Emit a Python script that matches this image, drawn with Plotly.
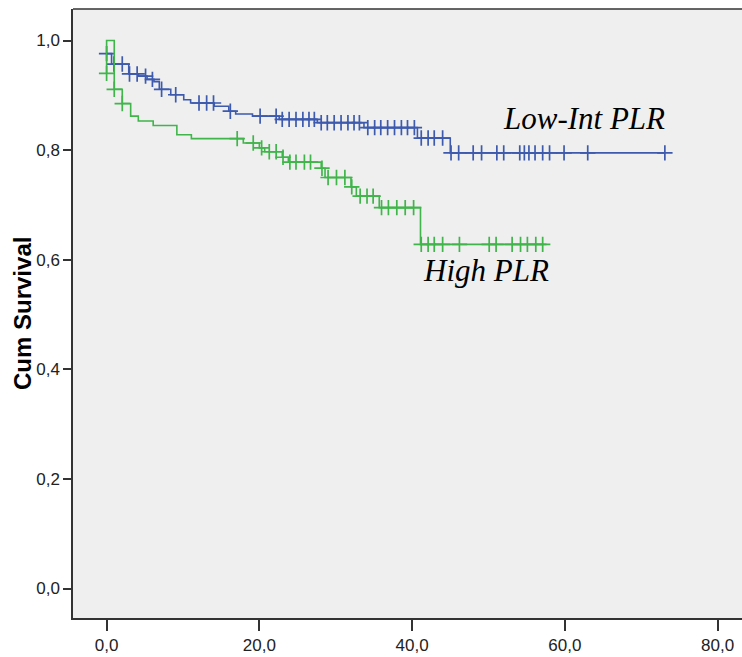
import numpy as np
import plotly.graph_objects as go

# ---------------- data ----------------
# Low-Int PLR (blue) Kaplan-Meier steps: time of step, survival after step
blue_step_times = [0, 0.65, 2.9, 4.2, 5.3, 6.2, 6.9, 8.4, 10.1, 11.0, 14.1, 16.0, 16.9,
                   19.1, 22.6, 27.6, 33.7, 40.7, 45.0]
blue_step_surv = [0.976, 0.957, 0.939, 0.935, 0.929, 0.925, 0.911, 0.901, 0.892, 0.886,
                  0.880, 0.871, 0.866, 0.862, 0.856, 0.850, 0.841, 0.822, 0.795]
blue_end_time = 73.1
blue_censor_times = [0, 0.96, 2.05, 3.0, 4.0, 5.1, 6.0, 7.2, 9.05, 12.1, 13.1, 14.0, 16.2,
                     20.1, 22.2, 23.0, 23.9, 24.8, 25.7, 26.5, 27.2, 28.1, 28.9, 29.8,
                     30.7, 31.6, 32.4, 33.1, 34.2, 35.1, 35.9, 36.8, 37.7, 38.6, 39.4,
                     40.3, 41.2, 42.1, 42.9, 44.0, 45.1, 46.1, 48.0, 49.1, 51.1, 52.0,
                     54.1, 54.7, 55.3, 56.1, 57.1, 58.0, 59.9, 63.0, 73.1]

# High PLR (green)
green_step_times = [0, 0, 1.0, 2.05, 3.15, 4.15, 6.1, 9.2, 11.1, 17.9, 20.0, 20.7, 23.0,
                    23.8, 28.1, 28.6, 32.0, 32.7, 35.7, 41.1]
green_step_surv = [0.94, 1.0, 0.911, 0.885, 0.862, 0.853, 0.845, 0.828, 0.821, 0.813,
                   0.804, 0.797, 0.787, 0.778, 0.767, 0.750, 0.733, 0.716, 0.695, 0.628]
green_end_time = 57.6
green_censor_times = [0, 1.0, 2.05, 17.1, 19.2, 20.3, 21.3, 22.2, 23.1, 24.0, 24.8, 25.9,
                      26.7, 28.2, 29.0, 30.1, 31.2, 32.1, 33.2, 34.1, 34.9, 36.0, 36.9,
                      38.0, 39.1, 40.2, 41.2, 42.1, 42.9, 44.0, 46.2, 50.1, 51.0, 53.1,
                      54.2, 55.1, 56.2, 57.1]

group_labels = ["Low-Int PLR", "High PLR"]
x_tick_vals = [0, 20, 40, 60, 80]
x_tick_text = ["0,0", "20,0", "40,0", "60,0", "80,0"]
y_tick_vals = [0.0, 0.2, 0.4, 0.6, 0.8, 1.0]
y_tick_text = ["0,0", "0,2", "0,4", "0,6", "0,8", "1,0"]
y_title = "Cum Survival"

BLUE = "#3D5AAE"
GREEN = "#3FB54A"


def surv_at(times, surv, t):
    times = np.asarray(times, dtype=float)
    idx = np.searchsorted(times, t, side="right") - 1
    if t <= times[0]:
        idx = 0
    return surv[idx]


fig = go.Figure()

for times, surv, end, cens, color in [
    (blue_step_times, blue_step_surv, blue_end_time, blue_censor_times, BLUE),
    (green_step_times, green_step_surv, green_end_time, green_censor_times, GREEN),
]:
    fig.add_trace(go.Scatter(
        x=list(times) + [end], y=list(surv) + [surv[-1]],
        mode="lines", line=dict(color=color, width=1.6, shape="hv"),
        hoverinfo="skip", showlegend=False))
    fig.add_trace(go.Scatter(
        x=cens, y=[surv_at(times, surv, t) for t in cens],
        mode="markers",
        marker=dict(symbol="cross-thin", size=11, line=dict(color=color, width=1.7)),
        hoverinfo="skip", showlegend=False))

tick_font = dict(family="Liberation Sans Narrow, Arial Narrow, Liberation Sans, Arial",
                 size=17, color="#222222")

fig.update_layout(
    width=742, height=657,
    margin=dict(l=73, r=0, t=9, b=39),
    paper_bgcolor="white",
    plot_bgcolor="#EFEFEF",
    xaxis=dict(range=[-4.4, 83.2], tickvals=x_tick_vals, ticktext=x_tick_text,
               showgrid=False, zeroline=False, showline=True, linecolor="#333333",
               linewidth=1.5, ticks="outside", ticklen=11, tickwidth=2,
               tickcolor="#333333", tickfont=tick_font),
    yaxis=dict(range=[-0.0538, 1.0575], tickvals=y_tick_vals, ticktext=y_tick_text,
               showgrid=False, zeroline=False, showline=True, linecolor="#333333",
               linewidth=1.5, ticks="outside", ticklen=8, tickwidth=2,
               tickcolor="#333333", tickfont=tick_font),
    shapes=[dict(type="line", xref="paper", yref="paper", x0=0, x1=1, y0=1, y1=1,
                 line=dict(color="#333333", width=1.5))],
    annotations=[
        dict(text="<i>" + group_labels[0] + "</i>", x=62.5, y=0.857, xref="x", yref="y",
             showarrow=False, xanchor="center", yanchor="middle",
             font=dict(family="Liberation Serif, Times New Roman, serif", size=31,
                       color="black")),
        dict(text="<i>" + group_labels[1] + "</i>", x=49.7, y=0.580, xref="x", yref="y",
             showarrow=False, xanchor="center", yanchor="middle",
             font=dict(family="Liberation Serif, Times New Roman, serif", size=31,
                       color="black")),
        dict(text="<b>" + y_title + "</b>", x=-0.0755, y=0.5, xref="paper", yref="paper",
             showarrow=False, xanchor="center", yanchor="middle", textangle=-90,
             font=dict(family="Liberation Sans, Arial", size=24, color="black")),
    ],
)

fig.write_html("out.html")
